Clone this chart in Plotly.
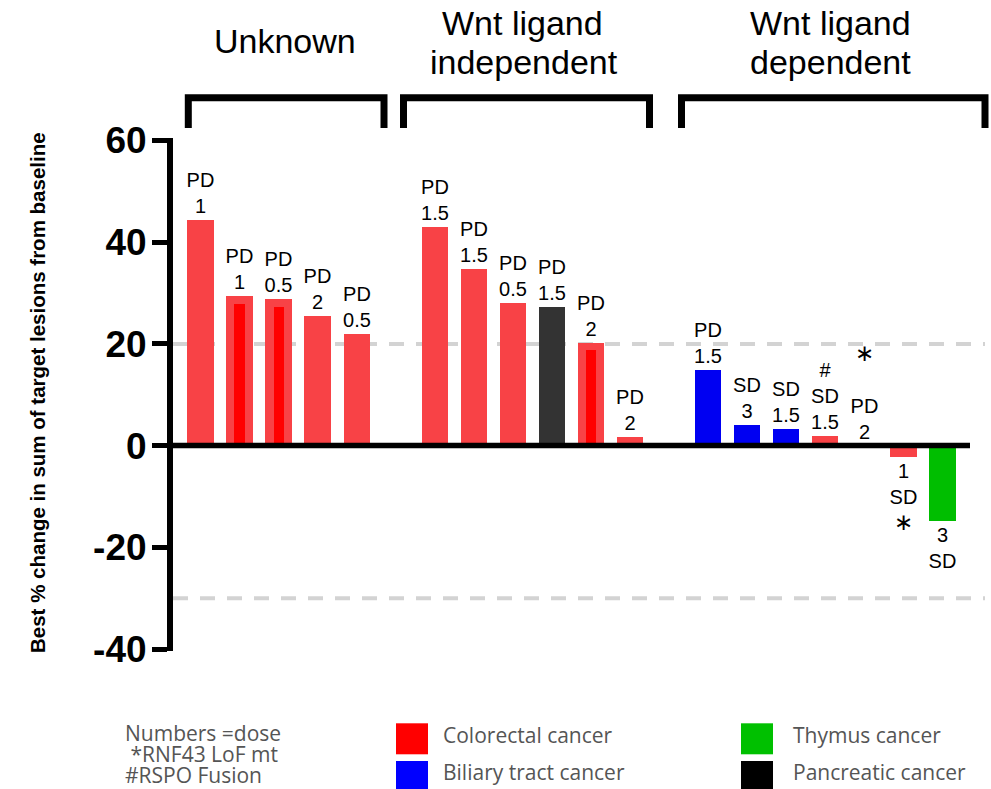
import plotly.graph_objects as go

# ---------------- data ----------------
groups = ["Unknown", "Wnt ligand independent", "Wnt ligand dependent"]
group_sizes = [5, 6, 7]
values = [44.3, 29.5, 28.8, 25.5, 22.0,
          43.0, 34.7, 28.1, 27.2, 20.2, 1.6,
          14.8, 4.0, 3.2, 1.9, 0.0, -2.3, -14.9]
inner_values = [None, 27.9, 27.3, None, None,
                None, None, None, None, 18.8, None,
                None, None, None, None, None, None, None]
responses = ["PD", "PD", "PD", "PD", "PD",
             "PD", "PD", "PD", "PD", "PD", "PD",
             "PD", "SD", "SD", "SD", "PD", "SD", "SD"]
doses = ["1", "1", "0.5", "2", "0.5",
         "1.5", "1.5", "0.5", "1.5", "2", "2",
         "1.5", "3", "1.5", "1.5", "2", "1", "3"]
markers = ["", "", "", "", "",
           "", "", "", "", "", "",
           "", "", "", "#", "*<br>", "*", ""]
cancers = ["Colorectal cancer"] * 5 + \
          ["Colorectal cancer", "Colorectal cancer", "Colorectal cancer",
           "Pancreatic cancer", "Colorectal cancer", "Colorectal cancer"] + \
          ["Biliary tract cancer", "Biliary tract cancer", "Biliary tract cancer",
           "Colorectal cancer", "Colorectal cancer", "Colorectal cancer", "Thymus cancer"]
legend_items = ["Colorectal cancer", "Biliary tract cancer", "Thymus cancer", "Pancreatic cancer"]
bar_colors = {"Colorectal cancer": "#F84246", "Biliary tract cancer": "#0000F2",
              "Thymus cancer": "#00BE00", "Pancreatic cancer": "#333333"}
legend_colors = {"Colorectal cancer": "#FF0000", "Biliary tract cancer": "#0000FF",
                 "Thymus cancer": "#00C000", "Pancreatic cancer": "#000000"}
notes = ["Numbers =dose", " *RNF43 LoF mt", "#RSPO Fusion"]
y_ticks = [-40, -20, 0, 20, 40, 60]
ref_lines = [20, -30]
y_title = "Best % change in sum of target lesions from baseline"

# ---------------- geometry ----------------
W, H = 991, 789
L, R, T, B = 173, 987, 138, 651
SLOT0, SLOTW = 200.5, 39.05          # pixel centre of first bar, pixel per slot
ZERO_PX, PPU = 445.6, 5.085          # pixel of y=0, pixel per unit


def xp(px):
    return (px - L) / (R - L)


def yp(py):
    return (B - py) / (B - T)


def xs(px):
    return (px - SLOT0) / SLOTW


x_range = [xs(L), xs(R)]
y_range = [-(B - ZERO_PX) / PPU, (ZERO_PX - T) / PPU]

# slot positions: one empty slot between groups
slots = []
for gi, n in enumerate(group_sizes):
    start = sum(group_sizes[:gi]) + gi
    slots += [start + k for k in range(n)]

STAR = "<span style='font-size:23px;font-family:DejaVu Sans'>\u2217</span>"


def fmt(m):
    return m.replace("*", STAR)


labels = []
for v, r, d, m in zip(values, responses, doses, markers):
    if v >= 0:
        labels.append((fmt(m) + "<br>" if m else "") + r + "<br>" + d)
    else:
        labels.append(d + "<br>" + r + ("<br>" + fmt(m) if m else ""))

FONT = "Arial, Liberation Sans, sans-serif"
LFONT = "Open Sans"

fig = go.Figure()
fig.add_trace(go.Bar(
    x=slots, y=values, width=0.674,
    marker=dict(color=[bar_colors[c] for c in cancers], line=dict(width=0)),
    text=labels, textposition="outside", constraintext="none",
    textfont=dict(family=FONT, size=20, color="black"),
    cliponaxis=False, showlegend=False, hoverinfo="skip",
))
fig.add_trace(go.Bar(
    x=slots, y=inner_values, width=0.26,
    marker=dict(color="#FF0000", line=dict(width=0)),
    showlegend=False, hoverinfo="skip",
))

shapes = []
# dashed reference lines
for rv in ref_lines:
    shapes.append(dict(type="line", xref="paper", yref="y", x0=0, x1=xp(985), y0=rv, y1=rv,
                       line=dict(color="#D3D3D3", width=4, dash="15px,12px"), layer="below"))
# zero line
shapes.append(dict(type="line", xref="x", yref="y", x0=x_range[0], x1=xs(970), y0=0, y1=0,
                   line=dict(color="black", width=5.5), layer="above"))
# group brackets
bracket_px = [(188.3, 384.0), (403.5, 649.5), (681.5, 985.0)]
for x0, x1 in bracket_px:
    a, b = xp(x0), xp(x1)
    yt, yb = yp(97.7), yp(128)
    shapes.append(dict(type="path", xref="paper", yref="paper",
                       path=f"M {a},{yb} L {a},{yt} L {b},{yt} L {b},{yb}",
                       line=dict(color="black", width=7)))
# legend squares
sq = {"Colorectal cancer": (396, 723.3), "Biliary tract cancer": (396, 761),
      "Thymus cancer": (741, 723.3), "Pancreatic cancer": (741, 761)}
for item in legend_items:
    x0, y0 = sq[item]
    shapes.append(dict(type="rect", xref="paper", yref="paper",
                       x0=xp(x0), x1=xp(x0 + 32), y0=yp(y0), y1=yp(y0 + 31),
                       fillcolor=legend_colors[item], line=dict(width=0)))

annotations = []
# group titles
title_lines = [("Unknown", 285, 41), ("Wnt ligand", 522, 23), ("independent", 524, 62),
               ("Wnt ligand", 830, 23), ("dependent", 830, 62)]
for txt, cx, cy in title_lines:
    annotations.append(dict(text=txt, xref="paper", yref="paper", x=xp(cx), y=yp(cy),
                            xanchor="center", yanchor="middle", showarrow=False,
                            font=dict(family=FONT, size=34, color="black")))
# y-axis title
annotations.append(dict(text=y_title, xref="paper", yref="paper", x=xp(37), y=yp(393),
                        textangle=-90, xanchor="center", yanchor="middle", showarrow=False,
                        font=dict(family=FONT, size=20.5, color="black", weight="bold")))
# legend text
lt = {"Colorectal cancer": (441, 735), "Biliary tract cancer": (441, 772),
      "Thymus cancer": (791, 735), "Pancreatic cancer": (791, 772)}
for item in legend_items:
    x0, cy = lt[item]
    annotations.append(dict(text=item, xref="paper", yref="paper", x=xp(x0), y=yp(cy),
                            xanchor="left", yanchor="middle", showarrow=False,
                            font=dict(family=LFONT, size=21, color="#555555")))
note_pos = [(123, 732.5), (123, 754), (123, 775)]
for txt, (x0, cy) in zip(notes, note_pos):
    shown = ("&nbsp;" + txt[1:]) if txt.startswith(" ") else txt
    annotations.append(dict(text=shown, xref="paper", yref="paper", x=xp(x0), y=yp(cy),
                            xanchor="left", yanchor="middle", showarrow=False,
                            font=dict(family=LFONT, size=21, color="#555555")))

fig.update_layout(
    width=W, height=H,
    margin=dict(l=L, r=W - R, t=T, b=H - B, pad=0),
    paper_bgcolor="white", plot_bgcolor="white",
    barmode="overlay", bargap=0,
    showlegend=False,
    shapes=shapes, annotations=annotations,
    xaxis=dict(visible=False, range=x_range, fixedrange=True),
    yaxis=dict(range=y_range, tickvals=y_ticks, ticktext=[str(t) for t in y_ticks],
               showgrid=False, zeroline=False,
               showline=True, linecolor="black", linewidth=6,
               ticks="outside", ticklen=15, tickwidth=5, tickcolor="black",
               ticklabelstandoff=-2,
               tickfont=dict(family=FONT, size=37, color="black", weight="bold"),
               fixedrange=True),
)

fig.write_html("out.html", config={"displayModeBar": False},
               post_script="document.body.style.margin='0';document.body.style.overflow='hidden';")
